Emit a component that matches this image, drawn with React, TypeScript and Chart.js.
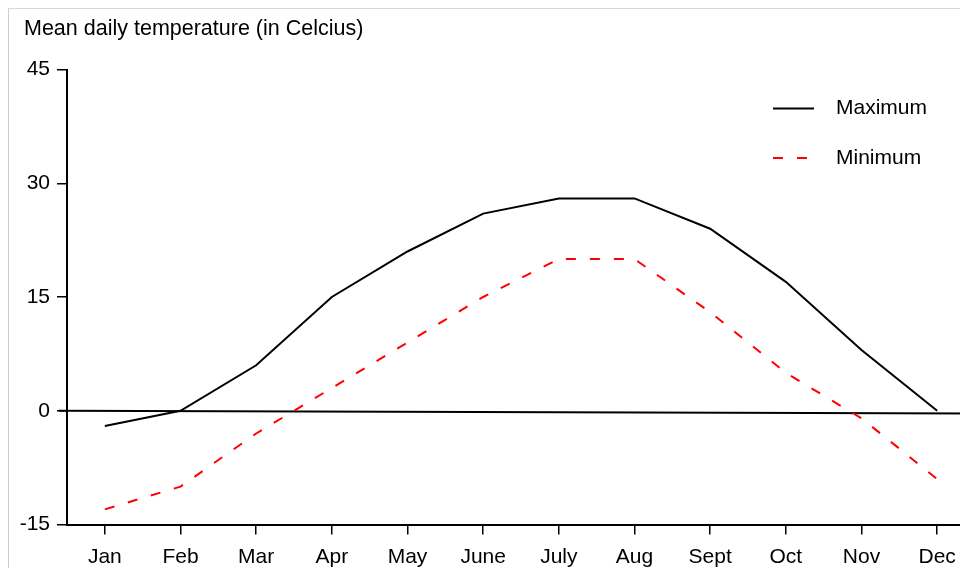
import React, { useEffect, useRef } from 'react';
import { Chart, registerables } from 'chart.js';

Chart.register(...registerables);

const months = ['Jan', 'Feb', 'Mar', 'Apr', 'May', 'June', 'July', 'Aug', 'Sept', 'Oct', 'Nov', 'Dec'];
const maximum = [-2, 0, 6, 15, 21, 26, 28, 28, 24, 17, 8, 0];
const minimum = [-13, -10, -3, 3, 9, 15, 20, 20, 13, 5, -1, -9];
const yTicks = [-15, 0, 15, 30, 45];
const zeroLine = [0, -0.35];
const titleText = 'Mean daily temperature (in Celcius)';
const seriesLabels = ['Maximum', 'Minimum'];

const FONT = '"Liberation Sans", Arial, Helvetica, sans-serif';

const titlePlugin = {
  id: 'leftTitle',
  afterDraw(chart: any) {
    const { ctx } = chart;
    ctx.save();
    ctx.fillStyle = '#000';
    ctx.font = `21.5px ${FONT}`;
    ctx.textBaseline = 'middle';
    ctx.textAlign = 'left';
    ctx.fillText(titleText, 15, 20);
    ctx.restore();
  },
};

const zeroLinePlugin = {
  id: 'zeroLine',
  beforeDatasetsDraw(chart: any) {
    const { ctx, chartArea, scales } = chart;
    const y = scales.y;
    ctx.save();
    ctx.strokeStyle = '#000';
    ctx.lineWidth = 2;
    ctx.beginPath();
    ctx.moveTo(chartArea.left - 8, y.getPixelForValue(zeroLine[0]));
    ctx.lineTo(chartArea.right, y.getPixelForValue(zeroLine[1]));
    ctx.stroke();
    ctx.restore();
  },
};

const legendPlugin = {
  id: 'customLegend',
  afterDraw(chart: any) {
    const { ctx, chartArea } = chart;
    chart.data.datasets.forEach((ds: any, i: number) => {
      const y = chartArea.top + 39 + i * 49.4;
      const x0 = chartArea.right - 202;
      ctx.save();
      ctx.strokeStyle = ds.borderColor;
      ctx.lineWidth = 2;
      ctx.setLineDash(ds.borderDash || []);
      ctx.beginPath();
      ctx.moveTo(x0, y);
      ctx.lineTo(x0 + 41, y);
      ctx.stroke();
      ctx.setLineDash([]);
      ctx.fillStyle = '#000';
      ctx.font = `21px ${FONT}`;
      ctx.textBaseline = 'middle';
      ctx.textAlign = 'left';
      ctx.fillText(ds.label, x0 + 63, y);
      ctx.restore();
    });
  },
};

export default function App() {
  const canvasRef = useRef<HTMLCanvasElement | null>(null);

  useEffect(() => {
    if (!canvasRef.current) return;
    const chart = new Chart(canvasRef.current, {
      type: 'line',
      data: {
        labels: months,
        datasets: [
          {
            label: seriesLabels[0],
            data: maximum,
            borderColor: '#000000',
            borderWidth: 2,
            pointRadius: 0,
            tension: 0,
            fill: false,
          },
          {
            label: seriesLabels[1],
            data: minimum,
            borderColor: '#ff0000',
            borderWidth: 2,
            borderDash: [10, 14],
            pointRadius: 0,
            tension: 0,
            fill: false,
          },
        ],
      },
      options: {
        responsive: false,
        animation: false,
        layout: { padding: { left: 0, right: 5, top: 60.5, bottom: 0 } },
        plugins: {
          legend: { display: false },
          tooltip: { enabled: false },
          title: { display: false },
        },
        scales: {
          x: {
            type: 'category',
            offset: true,
            grid: {
              display: true,
              drawOnChartArea: false,
              drawTicks: true,
              tickLength: 10,
              color: '#000',
              lineWidth: 1.5,
              offset: false,
            },
            border: { display: true, color: '#000', width: 2 },
            ticks: {
              color: '#000',
              font: { family: FONT, size: 21 },
              padding: 10,
              maxRotation: 0,
              autoSkip: false,
            },
            afterFit: (s: any) => {
              s.height = 44.5;
            },
          },
          y: {
            min: -15,
            max: 45,
            afterBuildTicks: (s: any) => {
              s.ticks = yTicks.map((v) => ({ value: v }));
            },
            grid: {
              display: true,
              drawOnChartArea: false,
              drawTicks: true,
              tickLength: 10,
              color: '#000',
              lineWidth: 1.5,
            },
            border: { display: true, color: '#000', width: 2 },
            ticks: {
              color: '#000',
              font: { family: FONT, size: 21 },
              padding: 7,
            },
            afterFit: (s: any) => {
              s.width = 58;
            },
          },
        },
      },
      plugins: [zeroLinePlugin, legendPlugin, titlePlugin],
    } as any);
    return () => chart.destroy();
  }, []);

  return (
    <div
      style={{
        position: 'relative',
        width: 960,
        height: 560,
        boxSizing: 'border-box',
        borderTop: '1px solid #d9d9d9',
        borderLeft: '1px solid #cccccc',
        overflow: 'hidden',
        background: '#fff',
      }}
    >
      <canvas ref={canvasRef} width={971} height={560} style={{ display: 'block' }} />
    </div>
  );
}
